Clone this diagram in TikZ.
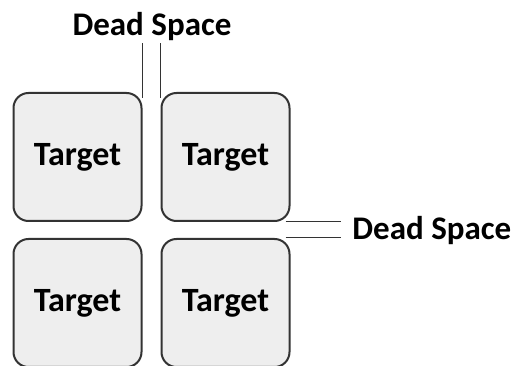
\documentclass[tikz,border=0pt]{standalone}
\usepackage{fontspec}
\setmainfont{Carlito}
\usetikzlibrary{positioning}
\definecolor{boxfill}{HTML}{EEEEEE}
\definecolor{boxline}{HTML}{333333}
\begin{document}
\begin{tikzpicture}[x=1pt, y=-1pt, node distance=148pt, thick,
    target node/.style={draw=boxline, line width=2pt, fill=boxfill, rounded corners=15pt,
        minimum width=128pt, minimum height=128pt, inner sep=0pt, font=\bfseries\fontsize{34}{40}\selectfont},
    gap line/.style={draw=boxline, line width=1pt},
    gap label/.style={font=\bfseries\fontsize{33}{40}\selectfont, inner sep=0pt}]
    \useasboundingbox (0,0) rectangle (523,366);
    \node[target node] (1) at (77.5,157) {Target};
    \node[target node] (2) [right of=1] {Target};
    \node[target node] (3) [below of=1, yshift=2pt] {Target};
    \node[target node] (4) [right of=3] {Target};
    % dead space between columns
    \coordinate (vl) at ([yshift=-6pt]1.north east);
    \coordinate (vr) at ([yshift=-6pt]2.north west);
    \node[gap label] (top) at (152,27) {Dead Space};
    \draw[gap line] (vl) -- ([yshift=55pt]vl);
    \draw[gap line] (vr) -- ([yshift=55pt]vr);
    % dead space between rows
    \coordinate (hu) at ([xshift=-5pt]2.south east);
    \coordinate (hd) at ([xshift=-5pt]4.north east);
    \node[gap label, anchor=west] (side) at (352,231) {Dead Space};
    \draw[gap line] (hu) -- ([xshift=55pt]hu);
    \draw[gap line] (hd) -- ([xshift=55pt]hd);
\end{tikzpicture}
\end{document}
